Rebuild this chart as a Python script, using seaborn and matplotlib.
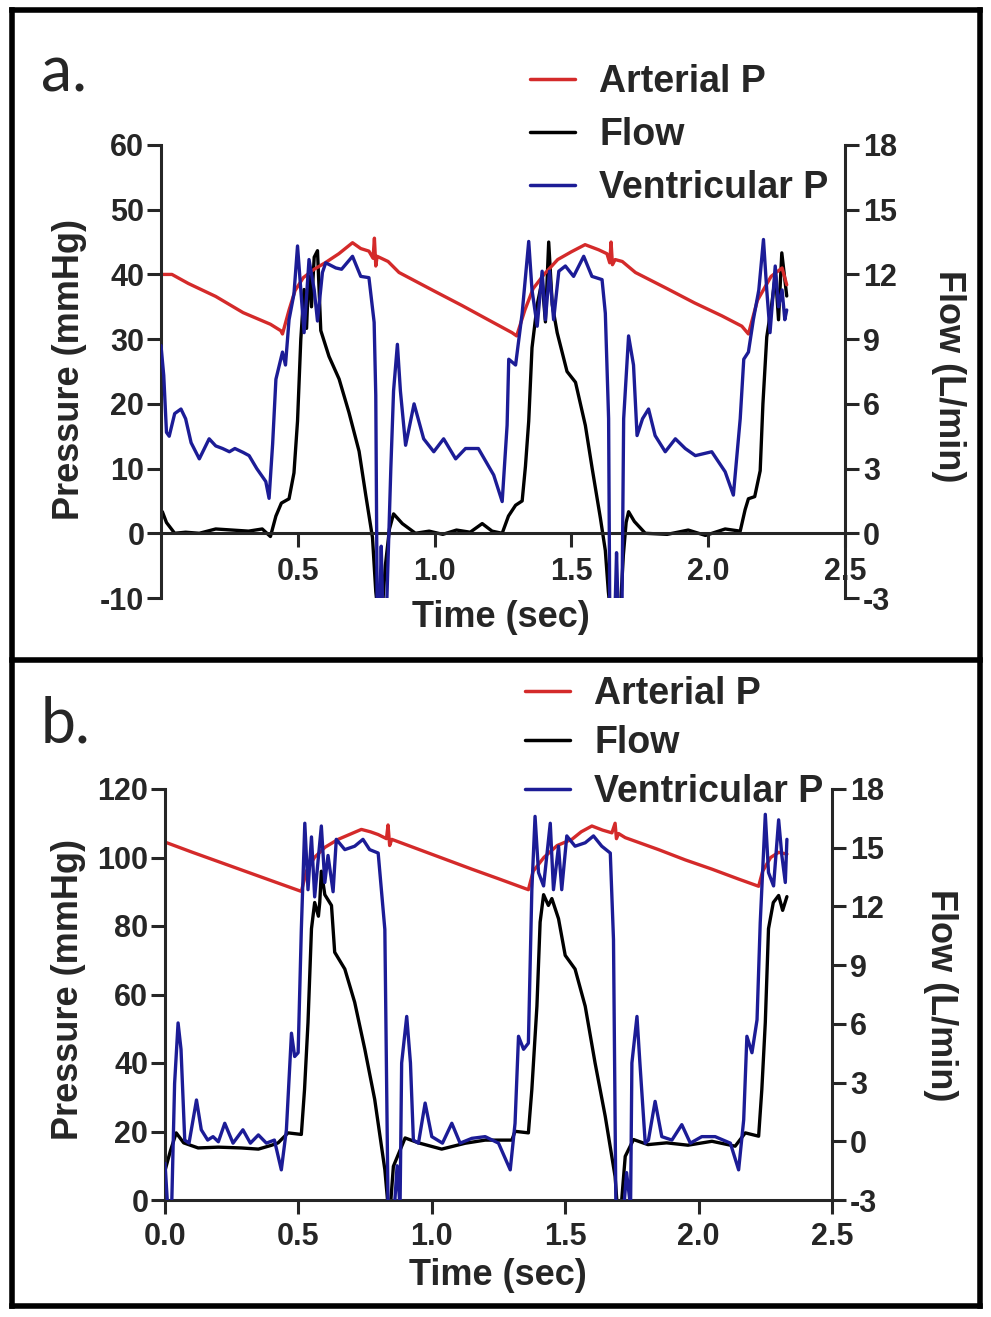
import matplotlib
matplotlib.use("Agg")
import matplotlib.pyplot as plt
import seaborn as sns
import pandas as pd
from matplotlib.lines import Line2D

# ---- datos ----
# panel a: presion arterial (mmHg)
t_art_a = [0.0, 0.04, 0.10, 0.20, 0.30, 0.40, 0.438, 0.444, 0.468, 0.49, 0.52, 0.56, 0.60, 0.65,
           0.70, 0.73, 0.76, 0.775, 0.78, 0.785, 0.79, 0.83, 0.87, 1.0, 1.1, 1.2, 1.283, 1.30,
           1.33, 1.36, 1.40, 1.45, 1.50, 1.55, 1.60, 1.63, 1.64, 1.645, 1.65, 1.66, 1.686,
           1.734, 1.85, 1.95, 2.05, 2.123, 2.147, 2.18, 2.23, 2.27, 2.287]
p_art_a = [40.0, 40.0, 38.6, 36.6, 34.1, 32.3, 31.3, 30.8, 34.5, 37.5, 39.5, 40.8, 41.8, 43.2,
           44.9, 44.0, 43.6, 42.5, 45.6, 41.3, 42.8, 42.0, 40.3, 37.4, 35.2, 32.9, 31.0, 30.5,
           34.5, 37.8, 40.0, 42.3, 43.5, 44.6, 43.8, 43.2, 41.8, 45.0, 41.5, 42.3, 42.0,
           40.3, 37.8, 35.6, 33.6, 32.0, 30.8, 36.0, 39.7, 41.0, 38.4]

# panel a: flujo (L/min)
t_flow_a = [0.005, 0.02, 0.05, 0.09, 0.14, 0.20, 0.26, 0.32, 0.37, 0.40, 0.42, 0.44, 0.468, 0.486,
            0.499, 0.511, 0.523, 0.532, 0.541, 0.55, 0.56, 0.572, 0.584, 0.614, 0.651, 0.687,
            0.724, 0.748, 0.773, 0.785, 0.79, 0.81, 0.82, 0.835, 0.85, 0.882, 0.93, 0.98, 1.03,
            1.08, 1.13, 1.174, 1.21, 1.247, 1.27, 1.296, 1.32, 1.332, 1.344, 1.356, 1.375,
            1.393, 1.405, 1.417, 1.43, 1.448, 1.484, 1.515, 1.551, 1.576, 1.606, 1.624, 1.635,
            1.64, 1.68, 1.69, 1.70, 1.709, 1.73, 1.77, 1.85, 1.927, 1.99, 2.062, 2.117, 2.135,
            2.147, 2.17, 2.19, 2.20, 2.214, 2.232, 2.246, 2.257, 2.269, 2.287]
flow_a = [1.0, 0.5, 0.0, 0.05, 0.0, 0.2, 0.15, 0.1, 0.2, -0.15, 0.8, 1.4, 1.6, 2.8,
          5.2, 9.0, 11.3, 9.5, 12.4, 10.5, 12.8, 13.1, 9.4, 8.2, 7.15, 5.6,
          3.8, 1.8, -0.2, -2.7, -3.3, -3.3, -1.5, 0.2, 0.9, 0.45, 0.0, 0.1, -0.05,
          0.15, 0.05, 0.45, 0.1, 0.0, 0.8, 1.3, 1.5, 3.1, 5.2, 8.6, 10.6,
          11.7, 9.8, 13.5, 10.6, 9.3, 7.5, 7.0, 5.0, 3.0, 0.7, -0.8, -2.7,
          -3.3, -3.3, -1.0, 0.5, 1.0, 0.55, 0.0, -0.05, 0.15, -0.1, 0.2, 0.1, 1.1,
          1.6, 1.7, 2.9, 6.0, 9.1, 10.6, 12.0, 9.9, 13.0, 11.0]

# panel a: presion ventricular (mmHg)
t_ven_a = [0.0, 0.01, 0.02, 0.03, 0.05, 0.073, 0.09, 0.11, 0.14, 0.176, 0.20, 0.225, 0.25, 0.27,
           0.30, 0.322, 0.35, 0.383, 0.395, 0.408, 0.42, 0.444, 0.455, 0.468, 0.486, 0.499,
           0.511, 0.523, 0.541, 0.56, 0.572, 0.59, 0.602, 0.639, 0.66, 0.70, 0.73, 0.76,
           0.779, 0.785, 0.79, 0.80, 0.805, 0.81, 0.825, 0.84, 0.85, 0.864, 0.875, 0.894,
           0.925, 0.96, 0.997, 1.033, 1.077, 1.113, 1.16, 1.216, 1.247, 1.265, 1.271, 1.296,
           1.32, 1.344, 1.356, 1.375, 1.393, 1.405, 1.42, 1.435, 1.454, 1.478, 1.508, 1.545,
           1.575, 1.612, 1.624, 1.636, 1.64, 1.66, 1.665, 1.67, 1.685, 1.691, 1.709, 1.727,
           1.74, 1.76, 1.782, 1.806, 1.843, 1.88, 1.916, 1.953, 2.013, 2.062, 2.092, 2.117,
           2.13, 2.147, 2.165, 2.185, 2.202, 2.214, 2.226, 2.245, 2.257, 2.27, 2.28, 2.287]
p_ven_a = [29.0, 24.4, 15.6, 15.0, 18.5, 19.2, 17.7, 14.0, 11.5, 14.6, 13.5, 13.1, 12.6, 13.1,
           12.5, 12.0, 10.0, 8.0, 5.4, 13.8, 23.8, 28.0, 26.0, 33.0, 37.0, 44.4,
           37.6, 31.0, 42.3, 37.6, 32.8, 40.3, 41.8, 41.0, 40.8, 42.8, 39.7, 39.5,
           32.6, 21.3, -11.0, -11.0, -2.0, -11.0, -11.0, 10.0, 22.0, 29.2, 22.0, 13.6,
           20.0, 14.6, 12.6, 14.6, 11.5, 13.1, 13.1, 9.0, 4.9, 16.7, 26.9, 26.0,
           34.0, 45.1, 37.6, 32.0, 40.5, 33.0, 40.5, 33.0, 40.5, 41.3, 39.7, 42.8,
           39.7, 39.2, 34.0, 17.7, -11.0, -11.0, -3.0, -11.0, -11.0, 17.7, 30.5, 26.0,
           15.1, 17.7, 19.2, 15.1, 12.6, 14.6, 13.1, 12.0, 12.6, 9.5, 5.9, 17.7,
           26.9, 28.0, 33.0, 37.6, 45.4, 37.6, 31.0, 41.3, 35.0, 37.6, 33.0, 34.5]

# panel b: presion arterial (mmHg)
t_art_b = [0.0, 0.1, 0.2, 0.3, 0.4, 0.511, 0.53, 0.56, 0.60, 0.649, 0.70, 0.736, 0.77, 0.799,
           0.83, 0.836, 0.842, 0.85, 0.95, 1.05, 1.15, 1.25, 1.362, 1.38, 1.42, 1.47, 1.525,
           1.56, 1.60, 1.64, 1.675, 1.687, 1.692, 1.70, 1.725, 1.85, 1.95, 2.05, 2.15, 2.225,
           2.24, 2.27, 2.30, 2.331]
p_art_b = [104.5, 101.6, 98.8, 96.0, 93.2, 90.1, 96.0, 100.0, 103.0, 105.3, 107.0, 108.2, 107.5,
           106.7, 105.5, 109.5, 103.5, 105.3, 102.4, 99.5, 96.6, 93.8, 90.6, 96.0, 100.0, 103.5,
           105.3, 107.5, 109.2, 108.0, 107.2, 110.0, 105.5, 107.0, 105.8, 102.3, 99.3, 96.6, 93.7,
           91.6, 96.0, 100.0, 101.5, 101.0]

# panel b: flujo (L/min)
t_flow_b = [0.0, 0.02, 0.042, 0.07, 0.124, 0.20, 0.286, 0.35, 0.40, 0.424, 0.461, 0.511, 0.523,
            0.536, 0.549, 0.561, 0.575, 0.58, 0.586, 0.599, 0.624, 0.636, 0.674, 0.711, 0.749,
            0.786, 0.824, 0.836, 0.845, 0.856, 0.90, 0.95, 1.037, 1.125, 1.20, 1.30, 1.312,
            1.362, 1.375, 1.394, 1.406, 1.419, 1.437, 1.45, 1.475, 1.50, 1.537, 1.575, 1.612,
            1.65, 1.687, 1.695, 1.71, 1.725, 1.756, 1.81, 1.88, 1.96, 2.05, 2.137, 2.175,
            2.225, 2.237, 2.25, 2.262, 2.28, 2.30, 2.315, 2.331]
flow_b = [-1.5, -0.5, 0.43, -0.08, -0.34, -0.3, -0.34, -0.4, -0.2, -0.08, 0.43, 0.35, 2.65,
          6.07, 10.86, 12.2, 11.5, 12.2, 13.8, 12.6, 12.05, 9.66, 8.8, 7.1, 4.7,
          2.14, -1.45, -3.3, -3.3, -1.28, 0.17, -0.08, -0.4, -0.1, 0.06, 0.06, 0.51,
          0.43, 2.65, 6.9, 11.2, 12.6, 12.05, 12.4, 11.37, 9.5, 8.8, 6.9, 4.0,
          1.28, -1.8, -3.3, -3.3, -0.77, 0.09, -0.17, -0.08, -0.2, 0.0, -0.25, 0.43,
          0.26, 2.65, 6.07, 10.86, 12.2, 12.56, 11.8, 12.5]

# panel b: presion ventricular (mmHg)
t_ven_b = [0.0, 0.01, 0.025, 0.036, 0.049, 0.06, 0.074, 0.09, 0.118, 0.136, 0.16, 0.18, 0.20,
           0.224, 0.255, 0.292, 0.32, 0.35, 0.38, 0.41, 0.436, 0.455, 0.474, 0.486, 0.499,
           0.511, 0.524, 0.536, 0.549, 0.561, 0.586, 0.599, 0.611, 0.63, 0.642, 0.674, 0.711,
           0.742, 0.767, 0.799, 0.824, 0.836, 0.86, 0.87, 0.881, 0.887, 0.906, 0.92, 0.931,
           0.95, 0.975, 1.0, 1.04, 1.075, 1.106, 1.15, 1.20, 1.25, 1.294, 1.312, 1.325,
           1.344, 1.362, 1.375, 1.387, 1.40, 1.419, 1.444, 1.456, 1.475, 1.487, 1.506, 1.537,
           1.575, 1.606, 1.637, 1.669, 1.681, 1.69, 1.72, 1.73, 1.745, 1.75, 1.769, 1.78,
           1.80, 1.812, 1.837, 1.862, 1.90, 1.937, 1.969, 2.012, 2.062, 2.119, 2.15, 2.169,
           2.181, 2.20, 2.219, 2.231, 2.25, 2.262, 2.281, 2.30, 2.312, 2.325, 2.331]
p_ven_b = [10.7, -2.0, -2.0, 34.0, 51.7, 44.0, 17.5, 16.6, 29.2, 20.5, 17.5, 18.5, 17.0,
           22.4, 16.6, 20.5, 16.6, 19.0, 16.6, 17.5, 8.8, 20.5, 48.7, 41.9, 43.0,
           79.0, 110.0, 90.6, 106.0, 88.5, 109.2, 92.7, 100.6, 90.0, 105.3, 102.3, 103.3,
           105.3, 102.3, 101.3, 79.0, -2.0, -2.0, 10.0, -2.0, 40.0, 53.6, 40.0, 17.5,
           16.6, 28.3, 18.5, 16.6, 22.4, 16.6, 18.0, 18.5, 16.6, 8.8, 22.4, 47.8,
           44.0, 45.8, 90.6, 112.0, 95.6, 91.7, 110.0, 90.6, 103.3, 90.6, 106.3, 103.3,
           104.3, 106.3, 103.3, 101.3, 76.0, -2.0, -2.0, 8.0, -2.0, 40.0, 53.6, 40.0,
           16.6, 17.5, 28.8, 18.5, 17.5, 22.0, 16.6, 18.5, 18.5, 16.6, 8.8, 23.4,
           47.8, 43.0, 52.6, 81.0, 112.6, 95.6, 91.7, 111.0, 100.6, 92.7, 105.3]

time_ticks = [0.5, 1.0, 1.5, 2.0, 2.5]
time_ticks_b = [0.0, 0.5, 1.0, 1.5, 2.0, 2.5]
p_ticks_a = [-10, 0, 10, 20, 30, 40, 50, 60]
p_ticks_b = [0, 20, 40, 60, 80, 100, 120]
flow_ticks = [-3, 0, 3, 6, 9, 12, 15, 18]

ROJO = "#d42a2a"
AZUL = "#1c1c96"
NEGRO = "black"
W, H = 991, 1317

sns.set_style("ticks")
plt.rcParams["font.family"] = ["Liberation Sans", "DejaVu Sans"]
plt.rcParams["font.weight"] = "bold"
plt.rcParams["axes.labelweight"] = "bold"
plt.rcParams["axes.linewidth"] = 2.2
plt.rcParams["axes.unicode_minus"] = False

fig = plt.figure(figsize=(W / 100, H / 100), dpi=100)


def px_rect(x0, x1, y_top, y_bot):
    return [x0 / W, 1 - y_bot / H, (x1 - x0) / W, (y_bot - y_top) / H]


def dibujar_panel(rect, t_art, p_art, t_flow, flow, t_ven, p_ven, plim, pticks, xticks,
                  xzero, lab_pos, xpad):
    ax = fig.add_axes(rect)
    ax2 = ax.twinx()
    lw = 2.4
    sns.lineplot(x=t_art, y=p_art, ax=ax, color=ROJO, lw=lw, sort=False, estimator=None)
    sns.lineplot(x=t_ven, y=p_ven, ax=ax, color=AZUL, lw=lw, sort=False, estimator=None,
                 zorder=3)
    sns.lineplot(x=t_flow, y=flow, ax=ax2, color=NEGRO, lw=lw, sort=False, estimator=None)
    # ventricular encima del flujo
    ax.set_zorder(ax2.get_zorder() + 1)
    ax.patch.set_visible(False)

    ax.set_xlim(0, 2.5)
    ax.set_ylim(*plim)
    ax2.set_ylim(-3, 18)
    ax.set_xticks(xticks)
    ax.set_yticks(pticks)
    ax2.set_yticks(flow_ticks)
    ax.set_xticklabels([f"{v:.1f}" for v in xticks])

    for s in ["top", "right"]:
        ax.spines[s].set_visible(False)
    for s in ["top", "left", "bottom"]:
        ax2.spines[s].set_visible(False)
    if xzero:
        ax.spines["bottom"].set_position(("data", 0))

    ax.tick_params(axis="y", direction="out", length=10, width=2.2, labelsize=22, pad=2)
    ax.tick_params(axis="x", direction="out", length=10, width=2.2, labelsize=22, pad=xpad)
    ax2.tick_params(axis="y", direction="out", length=10, width=2.2, labelsize=22, pad=3)

    ax.set_xlabel("Time (sec)", fontsize=26, va="center")
    ax.set_ylabel("Pressure (mmHg)", fontsize=26, va="center")
    ax2.set_ylabel("Flow (L/min)", fontsize=26, rotation=270, va="center")
    ax.xaxis.set_label_coords(*lab_pos[0])
    ax.yaxis.set_label_coords(*lab_pos[1])
    ax2.yaxis.set_label_coords(*lab_pos[2])
    return ax, ax2


# panel a
dibujar_panel(px_rect(161, 845, 145, 598), t_art_a, p_art_a, t_flow_a, flow_a, t_ven_a, p_ven_a,
              (-10, 60), p_ticks_a, time_ticks, True,
              [(0.497, -0.044), (-0.1345, 0.5055), (1.1506, 0.49)], 7)
# panel b
dibujar_panel(px_rect(165, 832, 789, 1200), t_art_b, p_art_b, t_flow_b, flow_b, t_ven_b, p_ven_b,
              (0, 120), p_ticks_b, time_ticks_b, False,
              [(0.499, -0.1825), (-0.144, 0.511), (1.162, 0.499)], 6)

# leyendas
handles = [Line2D([], [], color=ROJO, lw=2.5), Line2D([], [], color=NEGRO, lw=2.5),
           Line2D([], [], color=AZUL, lw=2.5)]
etiquetas = ["Arterial P", "Flow", "Ventricular P"]
for x0, y0, sp in [(530, 64, 0.46), (525, 676, 0.35)]:
    fig.legend(handles, etiquetas, loc="upper left", bbox_to_anchor=(x0 / W, 1 - y0 / H),
               frameon=False, fontsize=27, handlelength=1.2, handletextpad=0.65,
               labelspacing=sp, borderpad=0, borderaxespad=0)

# letras de panel
fig.text(41 / W, 1 - 92 / H, "a.", fontsize=45, fontweight="normal", family="Lato",
         ha="left", va="baseline")
fig.text(41 / W, 1 - 743 / H, "b.", fontsize=45, fontweight="normal", family="Lato",
         ha="left", va="baseline")

# marcos negros
marco = dict(color="black", lw=4, transform=fig.transFigure, solid_capstyle="projecting")
for (xa, ya), (xb, yb) in [((12, 10), (980, 10)), ((12, 10), (12, 1306)),
                           ((980, 10), (980, 1306)), ((12, 1306), (980, 1306)),
                           ((12, 660), (980, 660))]:
    fig.add_artist(Line2D([xa / W, xb / W], [1 - ya / H, 1 - yb / H], **marco))

fig.savefig("out.png", dpi=100)
